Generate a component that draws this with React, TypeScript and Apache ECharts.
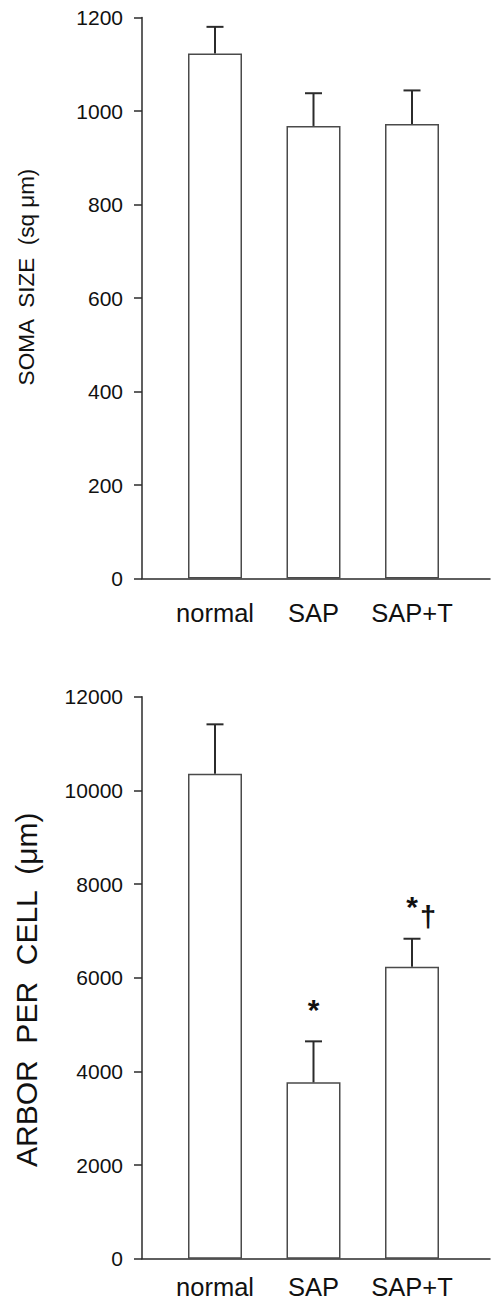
import React, { useEffect, useRef } from "react";
import * as echarts from "echarts";

const categories = ["normal", "SAP", "SAP+T"];
const somaMean = [1123, 968, 972];
const somaErr = [57, 70, 72];
const arborMean = [10356, 3765, 6234];
const arborErr = [1054, 876, 598];
const arborMarks = ["", "*", "*\u2020"];
const somaTicks = { min: 0, max: 1200, interval: 200 };
const arborTicks = { min: 0, max: 12000, interval: 2000 };

const FONT = "'Liberation Sans', Arial, Helvetica, sans-serif";
const AX = "#2b2b2b";

export default function App() {
  const ref = useRef<HTMLDivElement>(null);
  useEffect(() => {
    if (!ref.current) return;
    const chart = echarts.init(ref.current, null, { renderer: "svg" });

    const topT = 17.5, topH = 561;
    const botT = 696.7, botH = 562;
    const axisLeft = 142;
    const barLeft = 165.75, barW = 295.5;

    const errSeries = (xi: number, yi: number, mean: number[], err: number[], marks?: string[]) => ({
      type: "custom",
      xAxisIndex: xi,
      yAxisIndex: yi,
      z: 5,
      data: mean.map((m, i) => [i, m, err[i]]),
      renderItem: (params: any, api: any) => {
        const i = api.value(0);
        const m = api.value(1);
        const e = api.value(2);
        const p0 = api.coord([i, m]);
        const p1 = api.coord([i, m + e]);
        const st = { stroke: AX, lineWidth: 2 };
        const children: any[] = [
          { type: "line", shape: { x1: p0[0], y1: p0[1], x2: p1[0], y2: p1[1] }, style: st },
          { type: "line", shape: { x1: p1[0] - 8.5, y1: p1[1], x2: p1[0] + 8.5, y2: p1[1] }, style: st },
        ];
        const mk = marks ? marks[params.dataIndex] : "";
        if (mk && mk.indexOf("*") >= 0) {
          children.push({
            type: "text",
            x: p1[0],
            y: p1[1] - 32,
            style: { text: "*", fontSize: 30, fontWeight: "bold", fontFamily: FONT, fill: "#111", align: "center", verticalAlign: "middle" },
          });
        }
        if (mk && mk.indexOf("\u2020") >= 0) {
          children.push({
            type: "text",
            x: p1[0] + 16,
            y: p1[1] - 22,
            style: { text: "\u2020", fontSize: 29, fontWeight: "bold", fontFamily: FONT, fill: "#111", align: "center", verticalAlign: "middle" },
          });
        }
        return { type: "group", children };
      },
    });

    const yAxisVisible = (ticks: any, gridIndex: number, name: string, nameSize: number, nameGap: number, pad: number[]) => ({
      type: "value",
      gridIndex,
      min: ticks.min,
      max: ticks.max,
      interval: ticks.interval,
      name,
      nameLocation: "middle",
      nameGap,
      nameRotate: 90,
      nameTextStyle: { fontSize: nameSize, fontFamily: FONT, color: "#111", padding: pad },
      axisLine: { show: true, lineStyle: { color: AX, width: 1.5 } },
      axisTick: { show: true, length: 8, inside: false, lineStyle: { color: AX, width: 1.5 } },
      axisLabel: { show: true, margin: 19, fontSize: 21, fontFamily: FONT, color: "#111", formatter: (v: number) => String(v) },
      splitLine: { show: false },
    });

    const yAxisHidden = (ticks: any, gridIndex: number) => ({
      type: "value",
      gridIndex,
      min: ticks.min,
      max: ticks.max,
      interval: ticks.interval,
      show: false,
      splitLine: { show: false },
    });

    const xAxisLine = (gridIndex: number) => ({
      type: "value",
      gridIndex,
      min: 0,
      max: 1,
      axisLine: { show: true, onZero: false, lineStyle: { color: AX, width: 1.5 } },
      axisTick: { show: false },
      axisLabel: { show: false },
      splitLine: { show: false },
    });

    const xAxisCat = (gridIndex: number, margin: number) => ({
      type: "category",
      gridIndex,
      data: categories,
      axisLine: { show: false },
      axisTick: { show: false },
      axisLabel: { show: true, interval: 0, margin, fontSize: 25.5, fontFamily: FONT, color: "#111" },
      splitLine: { show: false },
    });

    chart.setOption({
      animation: false,
      backgroundColor: "#ffffff",
      grid: [
        { left: axisLeft, top: topT, height: topH, right: 1 },
        { left: barLeft, top: topT, height: topH, width: barW },
        { left: axisLeft, top: botT, height: botH, right: 1 },
        { left: barLeft, top: botT, height: botH, width: barW },
      ],
      xAxis: [xAxisLine(0), xAxisCat(1, 21), xAxisLine(2), xAxisCat(3, 15)],
      yAxis: [
        yAxisVisible(somaTicks, 0, "SOMA  SIZE  (sq \u03bcm)", 22.5, 104, [0, 0, 0, 42]),
        yAxisHidden(somaTicks, 1),
        yAxisVisible(arborTicks, 2, "ARBOR  PER  CELL  (\u03bcm)", 30, 101, [0, 24, 0, 0]),
        yAxisHidden(arborTicks, 3),
      ],
      series: [
        {
          type: "bar",
          xAxisIndex: 1,
          yAxisIndex: 1,
          data: somaMean,
          barWidth: 54,
          itemStyle: { color: "#ffffff", borderColor: "#4a4a4a", borderWidth: 1.5 },
        },
        errSeries(1, 1, somaMean, somaErr),
        {
          type: "bar",
          xAxisIndex: 3,
          yAxisIndex: 3,
          data: arborMean,
          barWidth: 54,
          itemStyle: { color: "#ffffff", borderColor: "#4a4a4a", borderWidth: 1.5 },
        },
        errSeries(3, 3, arborMean, arborErr, arborMarks),
      ],
    });
    return () => chart.dispose();
  }, []);
  return (
    <div
      ref={ref}
      style={{ position: "absolute", left: 0, top: 0, width: 491, height: 1302, background: "#fff" }}
    />
  );
}
